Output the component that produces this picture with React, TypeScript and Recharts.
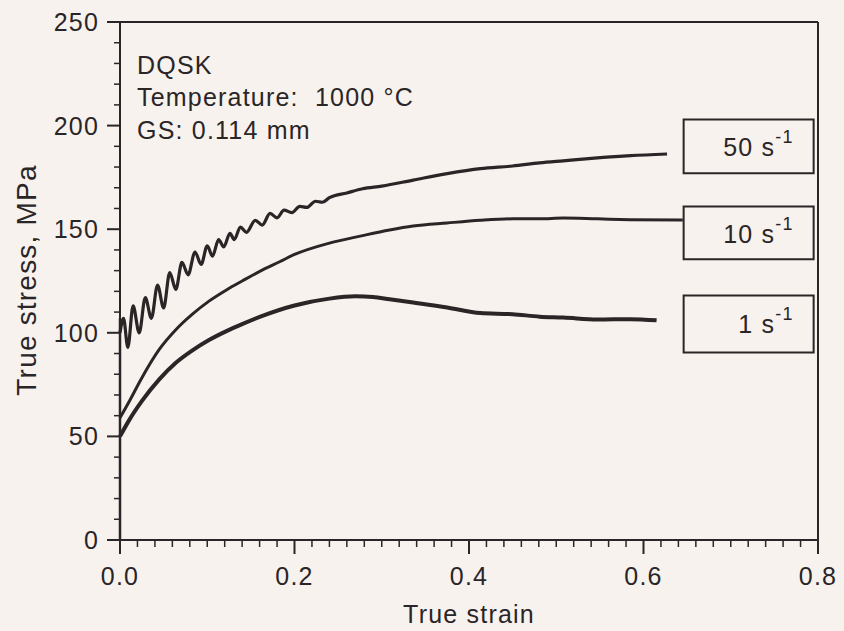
import { Line, LineChart, ReferenceArea, ReferenceLine, XAxis, YAxis } from 'recharts';

// 색/폰트 공통값
const INK = '#2a2526';
const PAPER = '#f8f2ee';
const FONT = "'Liberation Sans', Arial, sans-serif";

// 1 s^-1 (굵은 선, 0.27 부근에서 피크 후 연화)
const STRAIN_1 = [0, 0.01, 0.025, 0.045, 0.064, 0.083, 0.102, 0.122, 0.14, 0.164, 0.2, 0.24, 0.27, 0.29, 0.309, 0.336, 0.375, 0.413, 0.45, 0.481, 0.508, 0.547, 0.585, 0.615];
const STRESS_1 = [50, 57.5, 67, 77.5, 85.5, 91.5, 96.5, 100.8, 104.2, 108.3, 113.2, 116.5, 117.6, 117.3, 116.2, 114.6, 112.2, 109.5, 109, 107.8, 107.4, 106.4, 106.6, 106];

// 10 s^-1
const STRAIN_10 = [0, 0.0115, 0.024, 0.045, 0.064, 0.083, 0.102, 0.122, 0.14, 0.164, 0.183, 0.2, 0.24, 0.278, 0.309, 0.336, 0.375, 0.413, 0.45, 0.481, 0.508, 0.547, 0.585, 0.645];
const STRESS_10 = [59, 67.6, 77.5, 92, 101.5, 109, 115.3, 120.7, 125, 130.5, 134.3, 137.8, 143.3, 146.9, 149.6, 151.5, 153, 154.3, 155, 155, 155.4, 155, 154.6, 154.4];

// 50 s^-1 (초반 진동)
const STRAIN_50 = [0, 0.004, 0.009, 0.015, 0.022, 0.029, 0.036, 0.043, 0.05, 0.057, 0.064, 0.071, 0.078, 0.086, 0.093, 0.1, 0.106, 0.113, 0.119, 0.126, 0.131, 0.138, 0.145, 0.155, 0.163, 0.172, 0.18, 0.188, 0.197, 0.206, 0.214, 0.224, 0.232, 0.24, 0.26, 0.278, 0.3, 0.336, 0.375, 0.413, 0.45, 0.481, 0.508, 0.547, 0.585, 0.627];
const STRESS_50 = [100, 107, 93, 113, 100, 117, 107, 123, 112, 129, 121, 134, 128, 139, 133, 142, 137, 145, 141.5, 148, 145, 151, 148.5, 154.3, 152, 157.6, 155.5, 159.2, 158, 161, 160.5, 163.5, 163, 165.2, 167.5, 169.5, 170.8, 173.7, 176.8, 179.2, 180.5, 182, 183, 184.4, 185.5, 186.3];

// 원점에서 y축을 따라 올라가는 초기 하중 구간
const LOAD_STRAIN = [0, 0];
const LOAD_STRESS = [0, 107];

const RATES = ['50', '10', '1'];
const X_MAJOR = [0, 0.2, 0.4, 0.6, 0.8];
const Y_MAJOR = [0, 50, 100, 150, 200, 250];

// 보조 눈금 (x: 0.02, y: 10)
const X_TICKS = Array.from({ length: 41 }, (_, i) => +(i * 0.02).toFixed(2));
const Y_TICKS = Array.from({ length: 26 }, (_, i) => i * 10);

// 오른쪽 라벨 박스 위치 (데이터 좌표)
const BOX_X = [0.646, 0.795];
const BOX_Y = [[177, 203], [135.5, 161], [90.5, 118]];

const toPoints = (xs: number[], ys: number[]) => xs.map((strain, i) => ({ strain, stress: ys[i] }));

const textStyle = { fontFamily: FONT, fontSize: 25, letterSpacing: 1.2, fill: INK };

function XTick({ x, y, payload }: any) {
  const v = payload.value;
  const major = X_MAJOR.some(m => Math.abs(m - v) < 1e-6);
  return (
    <g>
      <line x1={x} y1={y} x2={x} y2={y + (major ? 14 : 7)} stroke={INK} strokeWidth={major ? 2 : 1.5} />
      {major && <text x={x} y={y + 45} textAnchor="middle" style={textStyle}>{v.toFixed(1)}</text>}
    </g>
  );
}

function YTick({ x, y, payload }: any) {
  const v = payload.value;
  const major = Y_MAJOR.includes(v);
  return (
    <g>
      <line x1={x} y1={y} x2={x - (major ? 13 : 6)} y2={y} stroke={INK} strokeWidth={major ? 2 : 1.5} />
      {major && <text x={x - 21} y={y + 9} textAnchor="end" style={textStyle}>{v}</text>}
    </g>
  );
}

function RateLabel({ viewBox, rate }: any) {
  if (!viewBox) return null;
  const { x, y, width } = viewBox;
  return (
    <text x={x + width - 20} y={y + 37} textAnchor="end" style={textStyle}>
      {rate} s<tspan dy={-13} fontSize={18}>-1</tspan>
    </text>
  );
}

export default function App() {
  return (
    <div style={{ position: 'absolute', left: 0, top: 0, width: 844, height: 631, background: PAPER }}>
      <LineChart width={844} height={631} margin={{ top: 22, right: 26, bottom: 0, left: 0 }}>
        <XAxis
          type="number"
          dataKey="strain"
          domain={[0, 0.8]}
          ticks={X_TICKS}
          interval={0}
          height={91}
          tickSize={0}
          tickMargin={0}
          tickLine={false}
          tick={<XTick />}
          axisLine={{ stroke: INK, strokeWidth: 2 }}
          allowDuplicatedCategory={false}
        />
        <YAxis
          type="number"
          dataKey="stress"
          domain={[0, 250]}
          ticks={Y_TICKS}
          interval={0}
          width={120}
          tickSize={0}
          tickMargin={0}
          tickLine={false}
          tick={<YTick />}
          axisLine={{ stroke: INK, strokeWidth: 2 }}
        />
        <ReferenceLine y={250} stroke={INK} strokeWidth={2} />
        <ReferenceLine x={0.8} stroke={INK} strokeWidth={2} />

        <Line data={toPoints(LOAD_STRAIN, LOAD_STRESS)} dataKey="stress" type="linear" stroke={INK} strokeWidth={2.5} dot={false} isAnimationActive={false} />
        <Line data={toPoints(STRAIN_1, STRESS_1)} dataKey="stress" type="monotone" stroke={INK} strokeWidth={4} dot={false} isAnimationActive={false} />
        <Line data={toPoints(STRAIN_10, STRESS_10)} dataKey="stress" type="monotone" stroke={INK} strokeWidth={3} dot={false} isAnimationActive={false} />
        <Line data={toPoints(STRAIN_50, STRESS_50)} dataKey="stress" type="monotone" stroke={INK} strokeWidth={3.2} dot={false} isAnimationActive={false} />

        {RATES.map((rate, i) => (
          <ReferenceArea
            key={rate}
            x1={BOX_X[0]}
            x2={BOX_X[1]}
            y1={BOX_Y[i][0]}
            y2={BOX_Y[i][1]}
            fill={PAPER}
            fillOpacity={1}
            stroke={INK}
            strokeWidth={2}
            label={<RateLabel rate={rate} />}
          />
        ))}

        {/* 좌상단 시험 조건 */}
        <text x={137} y={74} style={textStyle}>DQSK</text>
        <text x={137} y={106} style={{ ...textStyle, whiteSpace: 'pre' }}>Temperature:  1000 °C</text>
        <text x={137} y={139} style={textStyle}>GS: 0.114 mm</text>

        <text x={469} y={623} textAnchor="middle" style={textStyle}>True strain</text>
        <text x={36} y={280} textAnchor="middle" transform="rotate(-90 36 280)" style={{ ...textStyle, fontSize: 28 }}>True stress, MPa</text>
      </LineChart>
    </div>
  );
}
